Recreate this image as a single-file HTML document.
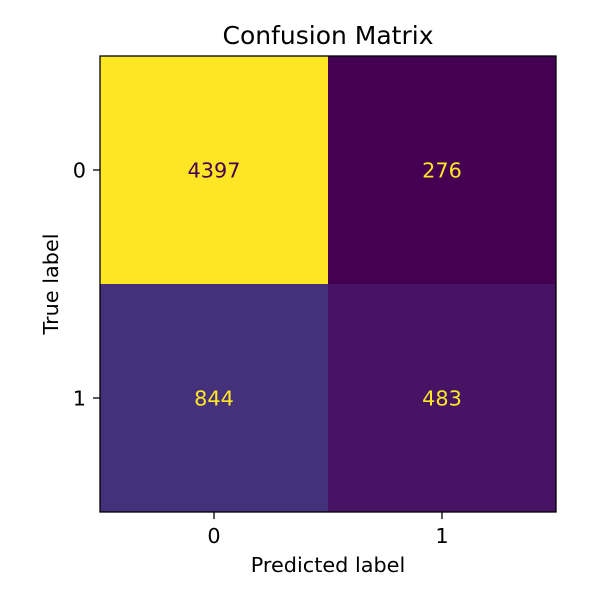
<!DOCTYPE html>
<html><head><meta charset="utf-8"><style>
body{margin:0;background:#fff;}
svg text{font-family:"DejaVu Sans","Liberation Sans",sans-serif;}
</style></head><body>
<svg id="chart" width="600" height="600" xmlns="http://www.w3.org/2000/svg">
<rect width="600" height="600" fill="#fff"/>
<text x="328" y="44" font-size="25" text-anchor="middle">Confusion Matrix</text>
<g id="cells"></g>
<rect x="100" y="56" width="456" height="456" fill="none" stroke="#000" stroke-width="1.3"/>
<g id="ticks"></g>
<text x="328" y="572" font-size="20.8" text-anchor="middle">Predicted label</text>
<text transform="translate(58,284) rotate(-90)" font-size="20.8" text-anchor="middle">True label</text>
</svg>
<script>
const trueLabels=["0","1"];
const predLabels=["0","1"];
const row0=[4397,276];
const row1=[844,483];
const values=[row0,row1];
const stops=["#440154","#482475","#414487","#355f8d","#2a788e","#21918c","#22a884","#44bf70","#7ad151","#bddf26","#fde725"];
function hex(h){return [1,3,5].map(i=>parseInt(h.substr(i,2),16));}
function viridis(t){t=Math.max(0,Math.min(1,t));const p=t*10,i=Math.min(9,Math.floor(p)),f=p-i;const a=hex(stops[i]),b=hex(stops[i+1]);return "rgb("+a.map((v,k)=>Math.round(v+(b[k]-v)*f)).join(",")+")";}
const x0=100,y0=56,W=456,H=456;
const n=predLabels.length,m=trueLabels.length;
const xs=j=>x0+j*W/n, ys=i=>y0+i*H/m;
const all=values.flat(),mn=Math.min(...all),mx=Math.max(...all);
const NS="http://www.w3.org/2000/svg";
const cells=document.getElementById('cells'),ticks=document.getElementById('ticks');
values.forEach((row,i)=>row.forEach((v,j)=>{
 const t=(v-mn)/(mx-mn);
 const r=document.createElementNS(NS,'rect');
 r.setAttribute('x',xs(j));r.setAttribute('y',ys(i));r.setAttribute('width',W/n);r.setAttribute('height',H/m);r.setAttribute('fill',viridis(t));
 
 
 cells.appendChild(r);
 const tx=document.createElementNS(NS,'text');
 tx.setAttribute('x',xs(j)+W/n/2);tx.setAttribute('y',ys(i)+H/m/2+7.5);tx.setAttribute('font-size','20.8');tx.setAttribute('text-anchor','middle');
 tx.setAttribute('fill',t<0.5?'#fde725':'#440154');tx.textContent=v;
 
 
 cells.appendChild(tx);
}));
predLabels.forEach((l,j)=>{
 const cx=xs(j)+W/n/2;
 const ln=document.createElementNS(NS,'line');
 ln.setAttribute('x1',cx);ln.setAttribute('x2',cx);ln.setAttribute('y1',512);ln.setAttribute('y2',519);ln.setAttribute('stroke','#000');ln.setAttribute('stroke-width','1.3');
 
 
 ticks.appendChild(ln);
 const tx=document.createElementNS(NS,'text');
 tx.setAttribute('x',cx);tx.setAttribute('y',543);tx.setAttribute('font-size','20.8');tx.setAttribute('text-anchor','middle');tx.textContent=l;
 
 
 ticks.appendChild(tx);
});
trueLabels.forEach((l,i)=>{
 const cy=ys(i)+H/m/2;
 const ln=document.createElementNS(NS,'line');
 ln.setAttribute('x1',93);ln.setAttribute('x2',100);ln.setAttribute('y1',cy);ln.setAttribute('y2',cy);ln.setAttribute('stroke','#000');ln.setAttribute('stroke-width','1.3');
 
 
 ticks.appendChild(ln);
 const tx=document.createElementNS(NS,'text');
 tx.setAttribute('x',86);tx.setAttribute('y',cy+7.5);tx.setAttribute('font-size','20.8');tx.setAttribute('text-anchor','end');tx.textContent=l;
 
 
 ticks.appendChild(tx);
});
</script>
</body></html>
